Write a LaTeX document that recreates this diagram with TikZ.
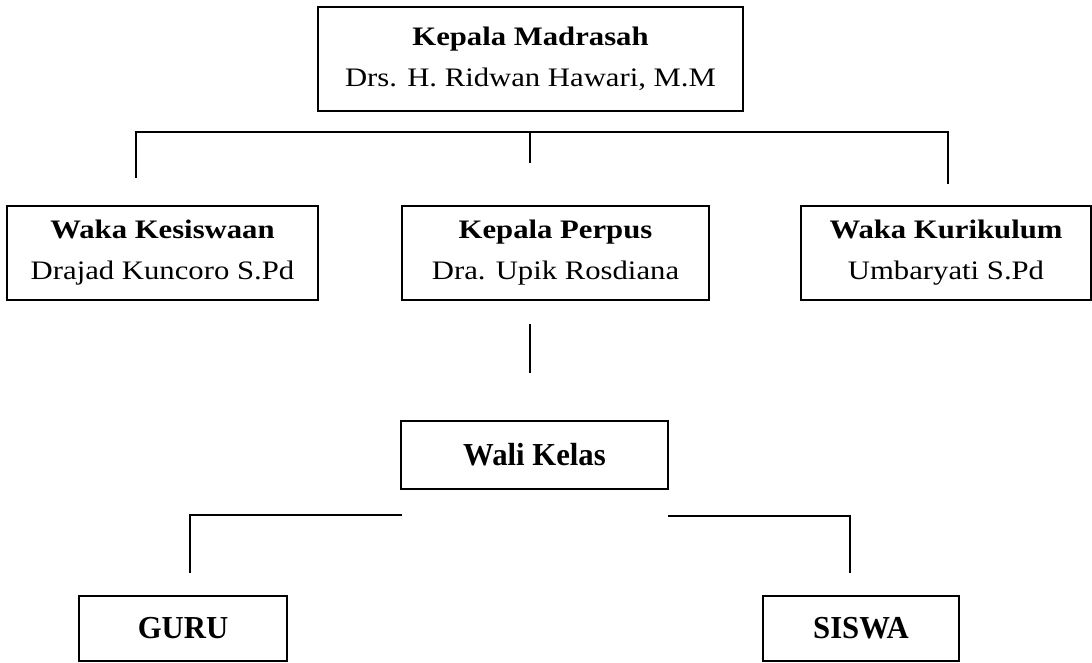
\documentclass[tikz,border=0pt]{standalone}
\usepackage{fontspec}
\setmainfont{Liberation Serif}[FakeStretch=1.15]
\newfontfamily\lowerfont{Liberation Serif}[FakeStretch=0.96]
\begin{document}
\begin{tikzpicture}[x=1pt,y=-1pt,
  box/.style={draw,line width=1.2pt,inner sep=0pt,align=center,font=\fontsize{26.7}{41}\selectfont},
  lowbox/.style={box,font=\lowerfont\fontsize{32}{38}\selectfont\bfseries},
  link/.style={line width=1.3pt}]
% Canvas
\useasboundingbox (0,0) rectangle (1092,662);

% Boxes
\node[box,minimum width=425pt,minimum height=104pt] (kepala) at (530.5,59) {\textbf{Kepala Madrasah}\\Drs. H. Ridwan Hawari, M.M};
\node[box,minimum width=311pt,minimum height=94pt] (kesiswaan) at (162.5,253) {\textbf{Waka Kesiswaan}\\Drajad Kuncoro S.Pd};
\node[box,minimum width=307pt,minimum height=94pt] (perpus) at (555.5,253) {\textbf{Kepala Perpus}\\Dra. Upik Rosdiana};
\node[box,minimum width=290pt,minimum height=94pt] (kurikulum) at (946,253) {\textbf{Waka Kurikulum}\\Umbaryati S.Pd};
\node[lowbox,minimum width=267pt,minimum height=68pt] (walikelas) at (534.5,455) {Wali Kelas};
\node[lowbox,minimum width=208pt,minimum height=65pt] (guru) at (183,628.5) {GURU};
\node[lowbox,minimum width=196pt,minimum height=65pt] (siswa) at (861,628.5) {SISWA};

% Connector points
\coordinate (bus) at (530,132);
\coordinate (tL) at (136,178);
\coordinate (tM) at (530,163);
\coordinate (tR) at (948,184);
\coordinate (p1) at (530,324);
\coordinate (p2) at (530,373);
\coordinate (wL) at (402,515);
\coordinate (gL) at (190,573);
\coordinate (wR) at (668,516);
\coordinate (sR) at (850,573);

% Connectors
\draw[link] (tL) -- (tL |- bus) -- (tR |- bus) -- (tR);
\draw[link] (bus) -- (tM);
\draw[link] (p1) -- (p2);
\draw[link] (wL) -| (gL);
\draw[link] (wR) -| (sR);
\end{tikzpicture}
\end{document}
